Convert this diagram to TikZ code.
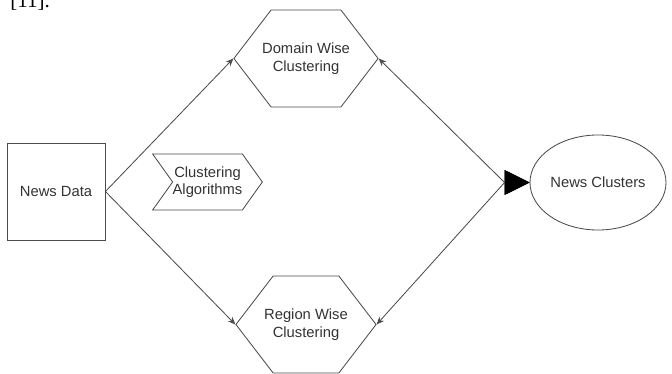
\documentclass[tikz,border=0pt]{standalone}
\usepackage{fontspec}
\setmainfont{Liberation Serif}
\setsansfont{Liberation Sans}
\usepackage{tikz}
\usetikzlibrary{shapes.geometric,shapes.symbols,arrows.meta,calc}

\begin{document}
\begin{tikzpicture}[x=0.025cm,y=-0.025cm,
  font=\sffamily\fontsize{10.5}{12.5}\selectfont,
  outline/.style={draw=black!70, line width=0.6pt, fill=white, text=black!80, align=center, inner sep=0pt},
  hexbox/.style={outline, signal, signal to=west and east, signal pointer angle=105,
    inner xsep=-0.225cm, minimum height=2.425cm},
  link/.style={draw=black!70, line width=0.6pt},
  smalltip/.tip={Stealth[length=5.5pt,width=4.5pt]},
  bigtip/.tip={Triangle[length=17.7pt,width=17.5pt,color=black]},
]
  \useasboundingbox (0,0) rectangle (672,374);
  % bout de texte coupe en haut
  \node[anchor=base west, font=\rmfamily\fontsize{15}{18}\selectfont, inner sep=0pt] (cite) at (10,8) {[11].};
  % Source
  \node[outline, rectangle, minimum width=2.45cm, minimum height=2.425cm] (data) at (56,191.5) {News Data};
  % Deux voies de clustering
  \node[hexbox] (domain) at (306,58.5) {Domain Wise\\Clustering};
  \node[hexbox] (region) at (306,324.5) {Region Wise\\Clustering};
  % Etiquette
  \node[outline, signal, signal to=east, signal from=west, signal pointer angle=109,
    minimum width=2.725cm, minimum height=1.4cm] (algo) at (207.5,182) {Clustering\\Algorithms};
  % Sortie
  \node[outline, ellipse, minimum width=3.4cm, minimum height=2.375cm] (clusters) at (598,182.5) {News Clusters};
  \coordinate (hub) at ($(clusters.west)+(-25,0)$);
  % Liens
  \draw[link, -smalltip] (data.east) -- (domain.west);
  \draw[link, -smalltip] (data.east) -- (region.west);
  \draw[link, smalltip-bigtip] (domain.east) -- (hub) -- (clusters.west);
  \draw[link, smalltip-bigtip] (region.east) -- (hub) -- (clusters.west);
\end{tikzpicture}
\end{document}
